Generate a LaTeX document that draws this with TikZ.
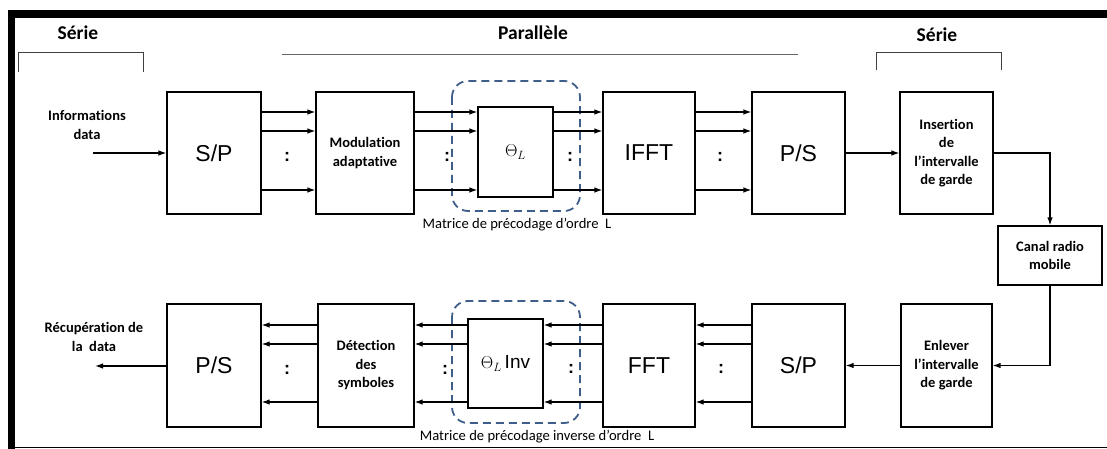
\documentclass[tikz,border=0pt]{standalone}
\usepackage{fontspec}
\setmainfont[Ligatures=NoCommon]{Carlito}
\newfontfamily\arialf{Liberation Sans}
\usetikzlibrary{arrows.meta}
\definecolor{dashblue}{HTML}{3F5F8A}
\begin{document}
\begin{tikzpicture}[x=1pt,y=-1pt,
  blk/.style={draw, line width=1.2pt, inner sep=0pt, align=center},
  big/.style={font=\arialf\fontsize{23}{26}\selectfont},
  lbl/.style={font=\bfseries\fontsize{14.5}{18.5}\selectfont, align=center},
  captxt/.style={font=\fontsize{14.6}{16}\selectfont},
  head/.style={font=\bfseries\fontsize{19.5}{21}\selectfont},
  arr/.style={line width=1.2pt, -{Latex[length=8pt,width=5.5pt]}},
  colon/.style={font=\arialf\bfseries\fontsize{18}{20}\selectfont, inner sep=0pt},
  grp/.style={draw=dashblue, line width=1.8pt, dash pattern=on 8pt off 5pt, rounded corners=16pt},
  brk/.style={draw=black!75, line width=1pt}
]
\useasboundingbox (0,0) rectangle (1107,449);
% frame
\fill[black] (8,10) rectangle (1107,18);
\fill[black] (8,10) rectangle (15,449);
\draw[line width=1.5pt] (8,447.5) -- (1107,447.5);

% headings
\node[head] (h1) at (78,33) {Série};
\draw[brk] (18,72) -- (18,53) -- (143,53) -- (143,72);
\node[head] (h2) at (533,33) {Parallèle};
\draw[draw=black!60, line width=1pt] (282,55) -- (798,55);
\node[head] (h3) at (937,35) {Série};
\draw[brk] (876,70) -- (876,53) -- (1001,53) -- (1001,70);

% dashed groups
\draw[grp] (452,81) rectangle (580,211);
\draw[grp] (452,301) rectangle (580,423);

% top row
\node[blk, big, minimum width=94pt, minimum height=122pt] (sp1) at (214,153) {S/P};
\node[blk, lbl, minimum width=98pt, minimum height=122pt] (mod) at (365,153) {Modulation\\adaptative};
\node[blk, minimum width=75pt, minimum height=90pt, font=\fontsize{17}{20}\selectfont] (th) at (515.5,152) {$\Theta_L$};
\node[blk, big, minimum width=92pt, minimum height=122pt] (ifft) at (649,153) {IFFT};
\node[blk, big, minimum width=93pt, minimum height=122pt] (ps1) at (798.5,153) {P/S};
\node[blk, lbl, minimum width=93pt, minimum height=122pt] (ins) at (946.5,153) {Insertion\\de\\l’intervalle\\de garde};
\node[blk, lbl, minimum width=104pt, minimum height=59pt] (can) at (1050,255.5) {Canal radio\\mobile};

% bottom row
\node[blk, big, minimum width=94pt, minimum height=123pt] (ps2) at (214,365.5) {P/S};
\node[blk, lbl, minimum width=96pt, minimum height=123pt] (det) at (366,365.5) {Détection\\des\\symboles};
\node[blk, minimum width=75pt, minimum height=89pt, font=\fontsize{17}{20}\selectfont] (thi) at (505.5,363.5) {$\Theta_L$\,{\arialf\fontsize{19}{20}\selectfont Inv}};
\node[blk, big, minimum width=92pt, minimum height=123pt] (fft) at (649,365.5) {FFT};
\node[blk, big, minimum width=93pt, minimum height=123pt] (sp2) at (798.5,365.5) {S/P};
\node[blk, lbl, minimum width=91pt, minimum height=123pt] (enl) at (946.5,365.5) {Enlever\\l’intervalle\\de garde};

% side labels
\node[lbl] (inf) at (87,125) {Informations\\data};
\node[lbl] (rec) at (94,337) {Récupération de\\la\ \ data};
\coordinate (in) at (93,153);
\coordinate (out) at (95,366);

% captions
\node[captxt] (c1) at (517,225) {Matrice de précodage d’ordre\ \ L};
\node[captxt] (c2) at (537,437) {Matrice de précodage inverse d’ordre\ \ L};

% colons
\node[colon] (k1) at (287,157) {:};
\node[colon] (k2) at (447,157) {:};
\node[colon] (k3) at (570,157) {:};
\node[colon] (k4) at (720,157) {:};
\node[colon] (k5) at (287,370) {:};
\node[colon] (k6) at (445,370) {:};
\node[colon] (k7) at (571,369) {:};
\node[colon] (k8) at (721,369) {:};

% top arrows
\foreach \y in {112,131,190}{
  \draw[arr] (sp1.east |- 0,\y) -- (mod.west |- 0,\y);
  \draw[arr] (mod.east |- 0,\y) -- (th.west |- 0,\y);
  \draw[arr] (th.east |- 0,\y) -- (ifft.west |- 0,\y);
  \draw[arr] (ifft.east |- 0,\y) -- (ps1.west |- 0,\y);
}
% bottom arrows
\foreach \y in {325,344,402}{
  \draw[arr] (det.west |- 0,\y) -- (ps2.east |- 0,\y);
  \draw[arr] (thi.west |- 0,\y) -- (det.east |- 0,\y);
  \draw[arr] (fft.west |- 0,\y) -- (thi.east |- 0,\y);
  \draw[arr] (sp2.west |- 0,\y) -- (fft.east |- 0,\y);
}
\draw[arr] (in) -- (sp1.west |- in);
\draw[arr] (ps1.east) -- (ins.west);
\draw[arr] (ins.east) -| (can.north);
\draw[arr] (can.south) |- (enl.east);
\draw[arr] (enl.west) -- (sp2.east);
\draw[arr] (ps2.west |- out) -- (out);
\end{tikzpicture}
\end{document}
